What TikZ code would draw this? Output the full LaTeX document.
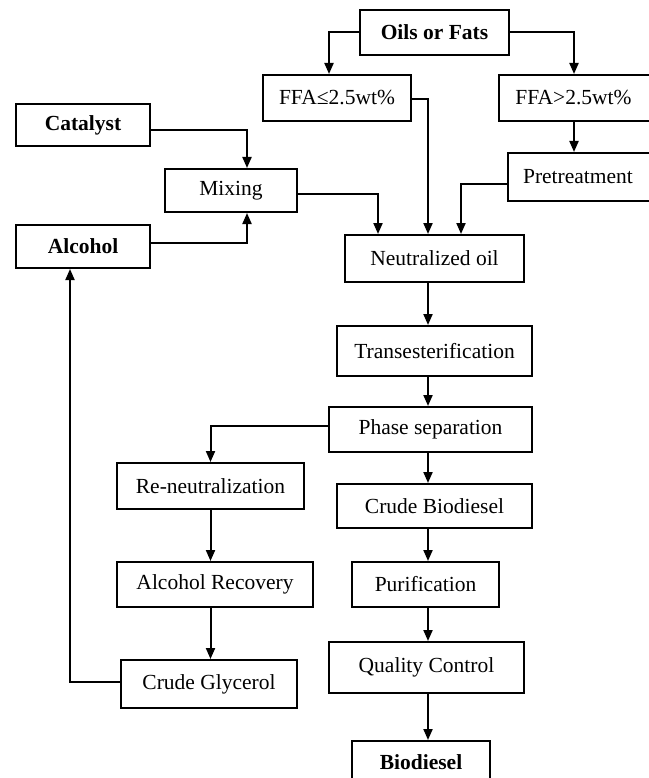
\documentclass[tikz,border=0pt]{standalone}
\usepackage{fontspec}
\setmainfont{Liberation Serif}
\usetikzlibrary{calc, positioning, arrows.meta}

\tikzset{
  box/.style={draw, line width=2pt, inner sep=0pt, font=\fontsize{21.5}{24}\selectfont},
  bbox/.style={box, font=\fontsize{21.5}{24}\selectfont\bfseries},
  arr/.style={line width=2pt, -{Triangle[length=11pt, width=9pt]}}
}

\begin{document}
\begin{tikzpicture}[x=1pt, y=-1pt]
  \useasboundingbox (0,0) rectangle (648,778);
  \coordinate (col) at (428,0);

  % inputs
  \node[bbox, minimum width=149pt, minimum height=45pt] (oils) at (434.5,32.5) {Oils or Fats};
  \node[box, minimum width=148pt, minimum height=46pt] (ffalow) at (337,98) {FFA≤2.5wt\%};
  \node[box, minimum width=153pt, minimum height=46pt] (ffahigh) at (575.5,98) {\hspace*{-4pt}FFA>2.5wt\%};
  \node[bbox, minimum width=134pt, minimum height=42pt] (catalyst) at (83,125) {Catalyst};
  \node[box, minimum width=132pt, minimum height=43pt] (mixing) at (231,190.5) {Mixing};
  \node[box, minimum width=144pt, minimum height=48pt] (pretreat) at (580,177) {\hspace*{-4pt}Pretreatment};
  \node[bbox, minimum width=134pt, minimum height=43pt] (alcohol) at (83,246.5) {Alcohol};

  % main line
  \node[box, minimum width=179pt, minimum height=47pt] (neutral) at (434.5,258.5) {Neutralized oil};
  \node[box, minimum width=195pt, minimum height=50pt] (trans) at (434.5,351) {Transesterification};
  \node[box, minimum width=203pt, minimum height=45pt] (phase) at (430.5,429.5) {Phase separation};
  \node[box, minimum width=195pt, minimum height=44pt] (crudebio) at (434.5,506) {Crude Biodiesel};
  \node[box, minimum width=147pt, minimum height=45pt] (purif) at (425.5,584.5) {Purification};
  \node[box, minimum width=195pt, minimum height=51pt] (quality) at (426.5,667.5) {Quality Control};
  \node[bbox, minimum width=138pt, minimum height=42pt] (biodiesel) at (421,762) {Biodiesel};

  % glycerol side
  \node[box, minimum width=187pt, minimum height=46pt] (reneut) at (210.5,486) {Re-neutralization};
  \node[box, minimum width=196pt, minimum height=45pt] (alcrec) at (215,584.5) {Alcohol Recovery};
  \node[box, minimum width=176pt, minimum height=48pt] (glycerol) at (209,684) {Crude Glycerol};

  \draw[arr] (oils.west) -| ([xshift=-8pt]ffalow.north);
  \draw[arr] (oils.east) -| (ffahigh.north -| 574,0);
  \draw[arr] (ffahigh.south -| 574,0) -- (pretreat.north -| 574,0);
  \draw[arr] ([yshift=-1pt]ffalow.east) -| (neutral.north -| col);
  \draw[arr] ([yshift=-5pt]catalyst.east) -| ([xshift=16pt]mixing.north);
  \draw[arr] ([yshift=3.5pt]alcohol.east) -| ([xshift=16pt]mixing.south);
  \draw[arr] ([yshift=-3.5pt]mixing.east) -| (neutral.north -| 378,0);
  \draw[arr] ([yshift=-7pt]pretreat.west) -| (neutral.north -| 461,0);

  \draw[arr] (neutral.south -| col) -- (trans.north -| col);
  \draw[arr] (trans.south -| col) -- (phase.north -| col);
  \draw[arr] (phase.south -| col) -- (crudebio.north -| col);
  \draw[arr] (crudebio.south -| col) -- (purif.north -| col);
  \draw[arr] (purif.south -| col) -- (quality.north -| col);
  \draw[arr] (quality.south -| col) -- (biodiesel.north -| col);

  \draw[arr] ([yshift=3.5pt]phase.west) -| (reneut.north);
  \draw[arr] (reneut.south) -- (alcrec.north -| reneut.south);
  \draw[arr] (alcrec.south -| reneut.south) -- (glycerol.north -| reneut.south);
  \draw[arr] ([yshift=2pt]glycerol.west) -| ([xshift=-13pt]alcohol.south);
\end{tikzpicture}
\end{document}
